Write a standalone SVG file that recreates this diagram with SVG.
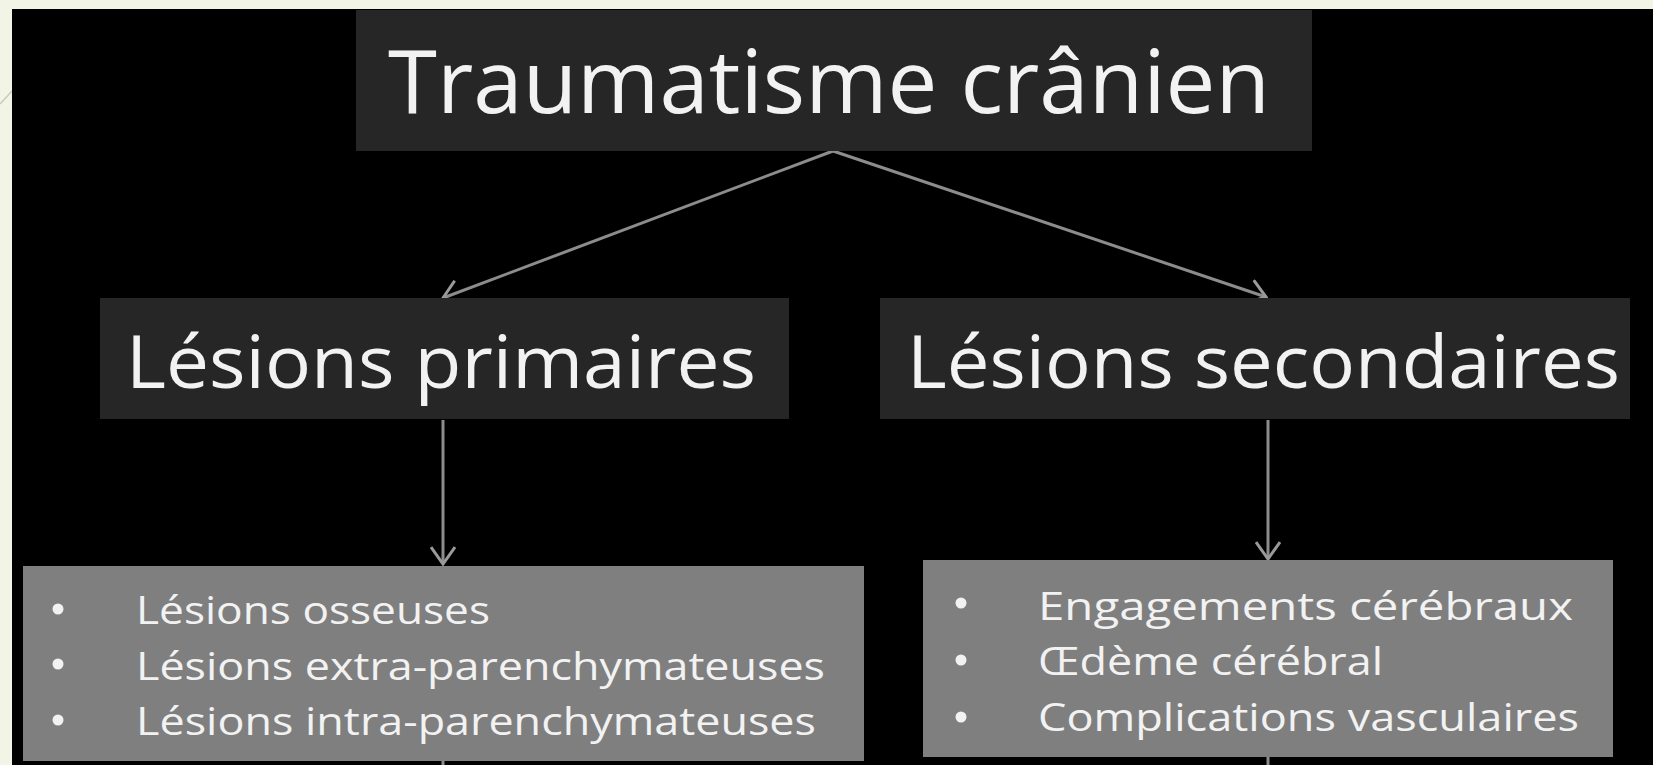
<svg xmlns="http://www.w3.org/2000/svg" width="1653" height="765" viewBox="0 0 1653 765">
<style>
.dark{fill:#262626}
.light{fill:#7f7f7f}
.t{font-family:"Open Sans","Noto Sans","Liberation Sans",sans-serif;fill:#f2f2f2}
.big{font-size:87px}
.mid{font-size:73px}
.sm{font-size:39px}
.bul{fill:#f2f2f2}
.conn{stroke:#8c8c8c;stroke-width:3;fill:none}
</style>
<defs>
<marker id="ah" markerUnits="userSpaceOnUse" markerWidth="20" markerHeight="26" viewBox="0 0 20 26" refX="18" refY="13" orient="auto">
<path d="M1,1 L18,13 L1,25" fill="none" stroke="#9a9a9a" stroke-width="3"/>
</marker>
</defs>
<rect x="0" y="0" width="1653" height="765" fill="#f2f4e6"/>
<line x1="0" y1="104" x2="12" y2="91" stroke="#c9cbb8" stroke-width="1.5"/>
<rect x="12" y="9" width="1641" height="756" fill="#000000"/>

<g id="connectors">
<line class="conn" x1="833" y1="151" x2="443" y2="298" marker-end="url(#ah)"/>
<line class="conn" x1="833" y1="151" x2="1266" y2="297" marker-end="url(#ah)"/>
<line class="conn" x1="443" y1="420" x2="443" y2="564" marker-end="url(#ah)"/>
<line class="conn" x1="1268" y1="420" x2="1268" y2="559" marker-end="url(#ah)"/>
<line class="conn" x1="443" y1="761" x2="443" y2="765"/>
<line class="conn" x1="1268" y1="757" x2="1268" y2="765"/>
</g>

<g id="node-traumatisme">
<rect class="dark" x="356" y="10" width="956" height="141"/>
<text class="t big" x="388" y="113" textLength="882" lengthAdjust="spacingAndGlyphs">Traumatisme crânien</text>
</g>

<g id="node-primaires">
<rect class="dark" x="100" y="298" width="689" height="121"/>
<text class="t mid" x="126" y="388" textLength="630" lengthAdjust="spacingAndGlyphs">Lésions primaires</text>
</g>

<g id="node-secondaires">
<rect class="dark" x="880" y="298" width="750" height="121"/>
<text class="t mid" x="907" y="388" textLength="713" lengthAdjust="spacingAndGlyphs">Lésions secondaires</text>
</g>

<g id="node-primaires-list">
<rect class="light" x="23" y="566" width="841" height="195"/>
<circle class="bul" cx="58" cy="609" r="5.5"/>
<circle class="bul" cx="58" cy="664" r="5.5"/>
<circle class="bul" cx="58" cy="720" r="5.5"/>
<text class="t sm" x="136" y="624" textLength="354" lengthAdjust="spacingAndGlyphs">Lésions osseuses</text>
<text class="t sm" x="136" y="680" textLength="689" lengthAdjust="spacingAndGlyphs">Lésions extra-parenchymateuses</text>
<text class="t sm" x="136" y="735" textLength="680" lengthAdjust="spacingAndGlyphs">Lésions intra-parenchymateuses</text>
</g>

<g id="node-secondaires-list">
<rect class="light" x="923" y="560" width="690" height="197"/>
<circle class="bul" cx="961" cy="603" r="5.5"/>
<circle class="bul" cx="961" cy="660" r="5.5"/>
<circle class="bul" cx="961" cy="717" r="5.5"/>
<text class="t sm" x="1038" y="620" textLength="535" lengthAdjust="spacingAndGlyphs">Engagements cérébraux</text>
<text class="t sm" x="1038" y="675" textLength="345" lengthAdjust="spacingAndGlyphs">Œdème cérébral</text>
<text class="t sm" x="1038" y="731" textLength="541" lengthAdjust="spacingAndGlyphs">Complications vasculaires</text>
</g>
</svg>
